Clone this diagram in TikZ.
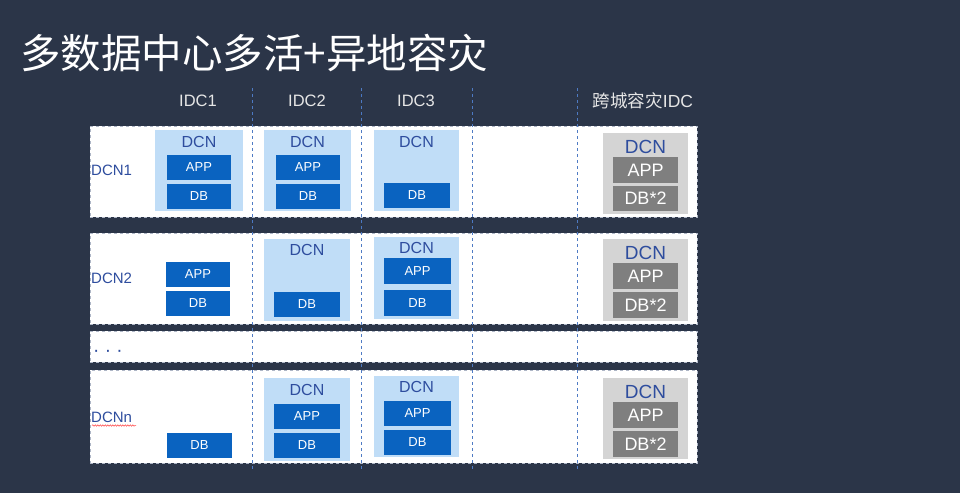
\documentclass[tikz,border=0pt]{standalone}
\usepackage{fontspec}
\setmainfont{Liberation Sans}
\newfontfamily\cjk{Noto Sans CJK SC}
\usetikzlibrary{decorations.pathmorphing}
\definecolor{bgc}{HTML}{2B3548}
\definecolor{panelborder}{HTML}{AEB6C6}
\definecolor{vlinec}{HTML}{4F7BC4}
\definecolor{lightblue}{HTML}{C0DDF7}
\definecolor{darkblue}{HTML}{0A63C0}
\definecolor{dcntext}{HTML}{2E4D9E}
\definecolor{graylight}{HTML}{D4D4D4}
\definecolor{graydark}{HTML}{7F7F7F}
\definecolor{headtext}{HTML}{E6E6E6}
\newcommand\rbox[7]{%
  \node[#2, minimum width={(#5-#3)*1pt}, minimum height={(#6-#4)*1pt}] (#1) at ({(#3+#5)/2},{(#4+#6)/2}) {#7};}
\begin{document}
\begin{tikzpicture}[x=1pt,y=-1pt,
  base/.style={inner sep=0pt, outer sep=0pt, anchor=center},
  panel/.style={base, fill=white, draw=panelborder, dashed, line width=0.6pt},
  lbox/.style={base, fill=lightblue},
  bbox/.style={base, fill=darkblue, text=white, font=\fontsize{13}{14}\selectfont},
  gbox/.style={base, fill=graylight},
  ggbox/.style={base, fill=graydark, text=white, font=\fontsize{18}{20}\selectfont},
  dcnlb/.style={base, text=dcntext, font=\fontsize{16}{18}\selectfont},
  dcngr/.style={base, text=dcntext, font=\fontsize{19}{21}\selectfont},
  rowlab/.style={inner sep=0pt, anchor=west, text=dcntext, font=\fontsize{15}{17}\selectfont},
  head/.style={base, text=headtext, font=\fontsize{16.5}{18}\selectfont},
  vline/.style={draw=vlinec, dashed, line width=0.7pt}]
\useasboundingbox (0,0) rectangle (960,493);
\fill[bgc] (0,0) rectangle (960,493);
% title
\node[inner sep=0pt, anchor=west, text=white, font=\cjk\fontsize{40.5}{44}\selectfont] (title) at (20,53) {多数据中心多活+异地容灾};
% headers
\node[head] (h1) at (198,101) {IDC1};
\node[head] (h2) at (307,101) {IDC2};
\node[head] (h3) at (416,101) {IDC3};
\node[head, font=\fontsize{17.5}{19}\selectfont] (h4) at (643,101) {{\cjk 跨城容灾}IDC};
% panels
\rbox{p1}{panel}{90}{126}{697}{217}{}
\rbox{p2}{panel}{90}{233}{697}{324}{}
\rbox{pd}{panel}{90}{331}{697}{362}{}
\rbox{pn}{panel}{90}{370}{697}{463}{}
% vertical dashed lines
\coordinate (v1t) at (252,88); \coordinate (v1b) at (252,470);
\coordinate (v2t) at (361,88); \coordinate (v2b) at (361,470);
\coordinate (v3t) at (472,88); \coordinate (v3b) at (472,470);
\coordinate (v4t) at (577,88); \coordinate (v4b) at (577,470);
\draw[vline] (v1t) -- (v1b);
\draw[vline] (v2t) -- (v2b);
\draw[vline] (v3t) -- (v3b);
\draw[vline] (v4t) -- (v4b);
% row labels
\node[rowlab] (l1) at (91,170) {DCN1};
\node[rowlab] (l2) at (91,278) {DCN2};
\node[rowlab, font=\fontsize{19}{21}\selectfont] (ld) at (93,353) {· · ·};
\node[rowlab] (ln) at (91,417) {DCNn};
\coordinate (wv1) at (92,425.5); \coordinate (wv2) at (136,425.5);
\draw[red!75, line width=0.5pt, decorate, decoration={snake, amplitude=0.7pt, segment length=2.5pt}] (wv1) -- (wv2);
% ---- row 1
\rbox{r1a}{lbox}{155}{130}{243}{211}{}
\node[dcnlb] (r1at) at (199,142) {DCN};
\rbox{r1aa}{bbox}{167}{155}{231}{180}{APP}
\rbox{r1ad}{bbox}{167}{184}{231}{209}{DB}
\rbox{r1b}{lbox}{264}{130}{351}{211}{}
\node[dcnlb] (r1bt) at (307.5,142) {DCN};
\rbox{r1ba}{bbox}{276}{155}{340}{180}{APP}
\rbox{r1bd}{bbox}{276}{184}{340}{209}{DB}
\rbox{r1c}{lbox}{374}{130}{459}{211}{}
\node[dcnlb] (r1ct) at (416.5,142) {DCN};
\rbox{r1cd}{bbox}{384}{183}{450}{208}{DB}
\rbox{r1g}{gbox}{603}{133}{688}{214}{}
\node[dcngr] (r1gt) at (645.5,147) {DCN};
\rbox{r1ga}{ggbox}{613}{157}{678}{183}{APP}
\rbox{r1gd}{ggbox}{613}{186}{678}{211}{DB*2}
% ---- row 2
\rbox{r2aa}{bbox}{166}{262}{230}{287}{APP}
\rbox{r2ad}{bbox}{166}{291}{230}{316}{DB}
\rbox{r2b}{lbox}{264}{239}{350}{321}{}
\node[dcnlb] (r2bt) at (307,250) {DCN};
\rbox{r2bd}{bbox}{274}{292}{340}{317}{DB}
\rbox{r2c}{lbox}{374}{237}{459}{319}{}
\node[dcnlb] (r2ct) at (416.5,248) {DCN};
\rbox{r2ca}{bbox}{384}{258}{451}{284}{APP}
\rbox{r2cd}{bbox}{384}{290}{451}{316}{DB}
\rbox{r2g}{gbox}{603}{239}{688}{321}{}
\node[dcngr] (r2gt) at (645.5,253) {DCN};
\rbox{r2ga}{ggbox}{613}{263}{678}{289}{APP}
\rbox{r2gd}{ggbox}{613}{292}{678}{318}{DB*2}
% ---- row n
\rbox{rnad}{bbox}{167}{433}{232}{458}{DB}
\rbox{rnb}{lbox}{264}{378}{350}{461}{}
\node[dcnlb] (rnbt) at (307,390) {DCN};
\rbox{rnba}{bbox}{274}{404}{340}{429}{APP}
\rbox{rnbd}{bbox}{274}{433}{340}{458}{DB}
\rbox{rnc}{lbox}{374}{376}{459}{457}{}
\node[dcnlb] (rnct) at (416.5,387) {DCN};
\rbox{rnca}{bbox}{384}{401}{451}{426}{APP}
\rbox{rncd}{bbox}{384}{430}{451}{455}{DB}
\rbox{rng}{gbox}{603}{378}{688}{459}{}
\node[dcngr] (rngt) at (645.5,392) {DCN};
\rbox{rnga}{ggbox}{613}{402}{678}{428}{APP}
\rbox{rngd}{ggbox}{613}{431}{678}{457}{DB*2}
\end{tikzpicture}
\end{document}
